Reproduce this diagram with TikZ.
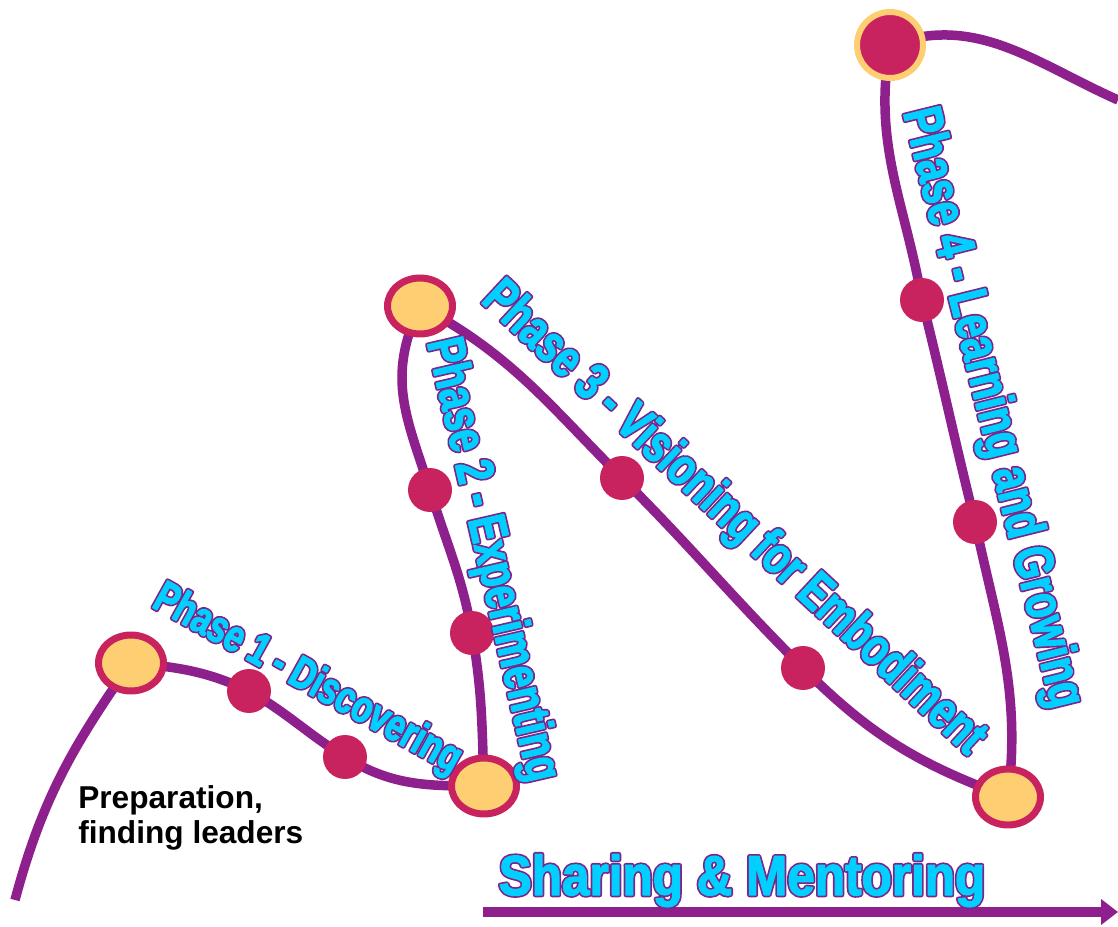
\documentclass[tikz,border=0pt]{standalone}
\usepackage{fontspec}
\usetikzlibrary{shapes.geometric,arrows.meta}
\setmainfont{Liberation Sans}
\newfontfamily\narrowfont{Liberation Sans}[FakeStretch=0.74]
\newfontfamily\sharefont{Liberation Sans}[FakeStretch=0.88]
\definecolor{curvepurple}{RGB}{142,32,142}
\definecolor{dotred}{RGB}{200,35,95}
\definecolor{stopyellow}{RGB}{253,207,114}
\definecolor{labelcyan}{RGB}{0,207,255}
% outlined lettering: wide purple stroke underneath, cyan letters on top
\newcommand\outlined[1]{%
  \makebox[0pt][l]{\special{pdf:literal direct 2 Tr 2.6 w 1 j 0.49 0.14 0.53 RG}#1%
    \special{pdf:literal direct 0 Tr}}%
  \special{pdf:literal direct 2 Tr 0.7 w 1 j 0 0.81 1 RG}#1%
  \special{pdf:literal direct 0 Tr}}
\pgfdeclarelayer{background}
\pgfsetlayers{background,main}

\begin{document}
\begin{tikzpicture}[x=0.02cm,y=0.02cm,
  phasestop/.style={ellipse,draw=dotred,line width=0.14cm,fill=stopyellow,
    minimum width=1.3cm,minimum height=1.12cm,inner sep=0pt},
  topstop/.style={circle,draw=stopyellow,line width=0.12cm,fill=dotred,
    minimum size=1.32cm,inner sep=0pt},
  milestone/.style={circle,fill=dotred,minimum size=0.88cm,inner sep=0pt},
  pathline/.style={draw=curvepurple,line width=0.19cm},
  phaselabel/.style={text=labelcyan,inner sep=0pt,
    font=\narrowfont\bfseries\fontsize{#1}{#1}\selectfont}]
\useasboundingbox (0,0) rectangle (1118,926);

% stops and milestones along the journey
\coordinate (start) at (15,26);
\node[phasestop] (n1) at (131,263) {};
\node[milestone] (d1) at (249,235) {};
\node[milestone] (d2) at (345,169) {};
\node[phasestop] (n2) at (484,140) {};
\node[milestone] (d3) at (472,293) {};
\node[milestone] (d4) at (430,436) {};
\node[phasestop] (n3) at (420,620) {};
\node[milestone] (d5) at (622,448) {};
\node[milestone] (d6) at (803,258) {};
\node[phasestop] (n4) at (1008,129) {};
\node[milestone] (d7) at (975,404) {};
\node[milestone] (d8) at (922,626) {};
\node[topstop] (n5) at (890,881) {};
\coordinate (finish) at (1118,826);

\begin{pgfonlayer}{background}
\draw[pathline] (start) to[out=75,in=-125] (n1.center)
  to[out=-5,in=155] (d1.center) to[out=-30,in=148] (d2.center)
  to[out=-32,in=180] (n2.center);
\draw[pathline] (n2.center) to[out=92,in=-80] (d3.center)
  to[out=100,in=-73] (d4.center) to[out=108,in=-115,looseness=1.1] (n3.center);
\draw[pathline] (n3.center) to[out=-28,in=135] (d5.center)
  to[out=-45,in=135] (d6.center) to[out=-45,in=160] (n4.center);
\draw[pathline] (n4.center) to[out=83,in=-78] (d7.center)
  to[out=104,in=-76] (d8.center) to[out=100,in=-100] (n5.center);
\draw[pathline] (n5.center) to[out=20,in=156] (finish);
\end{pgfonlayer}

% phase labels
\node[phaselabel=25.5,rotate=-29] (phase1) at (307,246)
  {\outlined{Phase 1 - Discovering}};
\node[phaselabel=30,rotate=-77] (phase2) at (491,366)
  {\outlined{Phase 2 - Experimenting}};
\node[phaselabel=30,rotate=-43] (phase3) at (733,407)
  {\outlined{Phase 3 - Visioning for Embodiment}};
\node[phaselabel=31,rotate=-76] (phase4) at (991,518)
  {\outlined{Phase 4 - Learning and Growing}};

\node[anchor=north west,align=left,inner sep=0pt,
  font=\bfseries\fontsize{18}{20}\selectfont] (prep) at (78,141)
  {Preparation,\\finding leaders};

% sharing arrow
\coordinate (arrowtail) at (483,14);
\coordinate (arrowtip) at (1118,14);
\draw[curvepurple,line width=0.2cm,-{Triangle[length=0.34cm,width=0.5cm]}]
  (arrowtail) -- (arrowtip);
\node[anchor=base,text=labelcyan,inner sep=0pt,
  font=\sharefont\bfseries\fontsize{32}{32}\selectfont] (sharing) at (742,31)
  {\outlined{Sharing \& Mentoring}};
\end{tikzpicture}
\end{document}
